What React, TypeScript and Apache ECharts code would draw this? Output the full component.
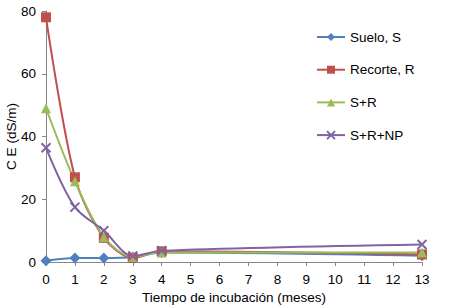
import React, { useEffect, useRef } from "react";
import * as echarts from "echarts";

const months = [0, 1, 2, 3, 4, 13];
const suelo = [0.4, 1.3, 1.3, 1.6, 3.0, 2.0];
const recorte = [78, 27, 7.7, 1.3, 3.4, 2.4];
const sr = [49, 25.7, 8.0, 1.6, 3.0, 3.0];
const srnp = [36.4, 17.5, 10, 1.9, 3.6, 5.6];
const names = ["Suelo, S", "Recorte, R", "S+R", "S+R+NP"];
const colors = ["#4F81BD", "#C0504D", "#9BBB59", "#8064A2"];
const symbols = ["diamond", "rect", "triangle", "path://M0,0 L2,2 M2,0 L0,2"];
const sizes = [11, 10, 10, 9];

export default function App() {
  const ref = useRef<HTMLDivElement>(null);
  useEffect(() => {
    const chart = echarts.init(ref.current!, null, { renderer: "svg" });
    const all = [suelo, recorte, sr, srnp];
    chart.setOption({
      animation: false,
      textStyle: { fontFamily: "Liberation Sans" },
      grid: { left: 46, right: 29, top: 11, bottom: 43, outerBoundsMode: "none" },
      legend: {
        orient: "vertical",
        left: 311,
        top: 25,
        itemWidth: 28,
        itemHeight: 10,
        itemGap: 18.7,
        textStyle: { fontSize: 13.5, color: "#000", fontFamily: "Liberation Sans" },
        data: names,
      },
      xAxis: {
        type: "value",
        min: 0,
        max: 13,
        interval: 1,
        name: "Tiempo de incubación (meses)",
        nameLocation: "middle",
        nameGap: 28,
        nameMoveOverlap: false,
        nameTextStyle: { fontSize: 13.5, color: "#000" },
        axisLine: { lineStyle: { color: "#868686" } },
        axisTick: { length: 4, lineStyle: { color: "#868686" } },
        axisLabel: { fontSize: 13.5, color: "#000", margin: 10 },
        splitLine: { show: false },
      },
      yAxis: {
        type: "value",
        min: 0,
        max: 80,
        interval: 20,
        name: "C E (dS/m)",
        nameLocation: "middle",
        nameGap: 28,
        nameMoveOverlap: false,
        nameTextStyle: { fontSize: 13.5, color: "#000" },
        axisLine: { show: true, lineStyle: { color: "#868686" } },
        axisTick: { show: true, length: 4, lineStyle: { color: "#868686" } },
        axisLabel: { fontSize: 13.5, color: "#000", margin: 10 },
        splitLine: { show: false },
      },
      series: names.map((n, i) => ({
        name: n,
        type: "line",
        smooth: 0.3,
        data: months.map((m, j) => [m, all[i][j]]),
        symbol: symbols[i],
        symbolSize: sizes[i],
        lineStyle: { color: colors[i], width: 2 },
        itemStyle: {
          color: colors[i],
          borderColor: colors[i],
          borderWidth: i === 3 ? 2 : 0,
        },
      })),
    });
    return () => chart.dispose();
  }, []);
  return (
    <div
      ref={ref}
      style={{ position: "absolute", left: 0, top: 0, width: 451, height: 305 }}
    />
  );
}
